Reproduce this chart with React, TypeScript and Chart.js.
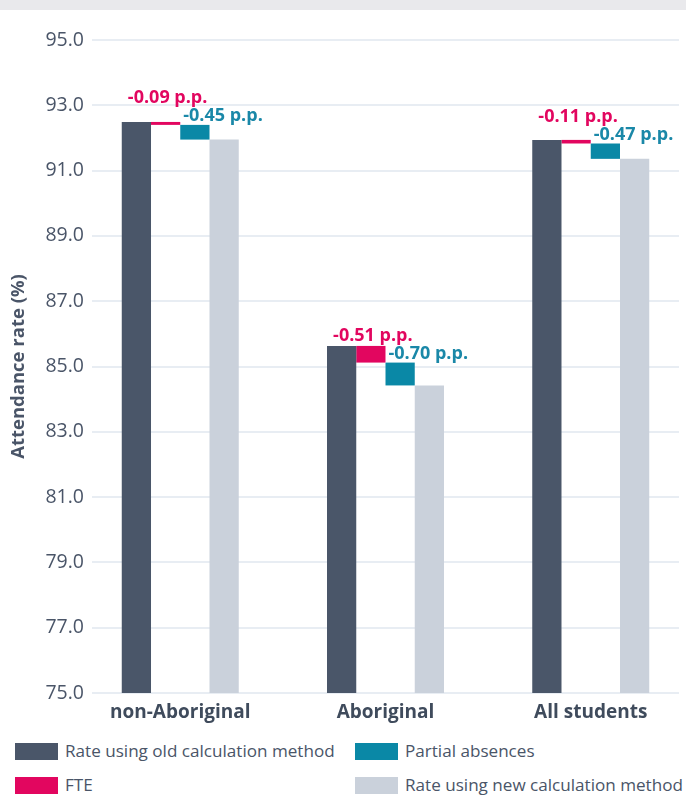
import React, { useEffect, useRef } from 'react';
import { Chart, registerables } from 'chart.js';

Chart.register(...registerables);

// ---- data ----
const categories = ['non-Aboriginal', 'Aboriginal', 'All students'];
const oldRates = [92.49, 85.63, 91.94];
const fteChange = [-0.09, -0.51, -0.11];
const partialChange = [-0.45, -0.7, -0.47];
const newRates = [91.95, 84.42, 91.36];
const yTicks = [75, 77, 79, 81, 83, 85, 87, 89, 91, 93, 95];
const seriesNames = [
  'Rate using old calculation method',
  'FTE',
  'Partial absences',
  'Rate using new calculation method',
];

const COLORS = ['#4a5669', '#e2065f', '#0a88a6', '#cad1db'];
const TEXT = '#4a5568';
const FONT = '"Open Sans", sans-serif';
// category axis extends 0.43 of a category beyond the first and last
const CAT_PAD = 0.43;

const labelPlugin = {
  id: 'ppLabels',
  afterDatasetsDraw(chart: any) {
    const ctx = chart.ctx;
    ctx.save();
    ctx.font = `bold 18px ${FONT}`;
    ctx.textBaseline = 'alphabetic';
    [1, 2].forEach((di) => {
      const meta = chart.getDatasetMeta(di);
      const changes = di === 1 ? fteChange : partialChange;
      meta.data.forEach((el: any, i: number) => {
        const p = el.getProps(['x', 'y', 'base', 'width'], true);
        const top = Math.min(p.y, p.base);
        const bottom = Math.max(p.y, p.base);
        const txt = `${changes[i].toFixed(2)} p.p.`;
        ctx.fillStyle = di === 1 ? '#e2065f' : '#1a88a8';
        if (di === 1) {
          ctx.textAlign = 'center';
          ctx.fillText(txt, p.x + 2, bottom - 22);
        } else {
          ctx.textAlign = 'left';
          ctx.fillText(txt, p.x - p.width / 2 + 3, top - 4);
        }
      });
    });
    ctx.restore();
  },
};

export default function App() {
  const ref = useRef<HTMLCanvasElement>(null);

  useEffect(() => {
    document.body.style.margin = '0';
    const fteBars = categories.map((_, i) => [oldRates[i] + fteChange[i], oldRates[i]]);
    const partialBars = categories.map((_, i) => [
      oldRates[i] + fteChange[i] + partialChange[i],
      oldRates[i] + fteChange[i],
    ]);
    const chart = new Chart(ref.current as HTMLCanvasElement, {
      type: 'bar',
      data: {
        labels: categories,
        datasets: [
          { label: seriesNames[0], data: oldRates, backgroundColor: COLORS[0] },
          { label: seriesNames[1], data: fteBars as any, backgroundColor: COLORS[1] },
          { label: seriesNames[2], data: partialBars as any, backgroundColor: COLORS[2] },
          { label: seriesNames[3], data: newRates, backgroundColor: COLORS[3] },
        ],
      },
      options: {
        animation: false,
        responsive: true,
        maintainAspectRatio: false,
        layout: { padding: { top: 30, right: 7, left: 0, bottom: 0 } },
        datasets: { bar: { categoryPercentage: 0.57, barPercentage: 1, borderWidth: 0 } },
        plugins: { legend: { display: false }, tooltip: { enabled: false } },
        scales: {
          x: {
            grid: { display: false, drawTicks: false },
            border: { display: false },
            ticks: {
              padding: 8,
              color: '#3f4b5c',
              font: { family: FONT, size: 19, weight: 'bold' },
            },
            afterFit: (s: any) => {
              s.height = 37;
            },
            afterBuildTicks: (s: any) => {
              s._startValue = -CAT_PAD;
              s._valueRange = categories.length - 1 + 2 * CAT_PAD;
            },
          },
          y: {
            min: 75,
            max: 95,
            grid: { color: '#e8edf3', lineWidth: 2, drawTicks: false },
            border: { display: false },
            afterBuildTicks: (s: any) => {
              s.ticks = yTicks.map((v) => ({ value: v }));
            },
            ticks: {
              padding: 8,
              color: TEXT,
              font: { family: FONT, size: 19.5 },
              callback: (v: any) => Number(v).toFixed(1),
            },
            title: {
              display: true,
              text: 'Attendance rate (%)',
              color: TEXT,
              font: { family: FONT, size: 18.5, weight: 'bold' },
              padding: { top: 8, bottom: 0 },
            },
            afterFit: (s: any) => {
              s.width = 92;
            },
          },
        },
      },
      plugins: [labelPlugin],
    });
    return () => chart.destroy();
  }, []);

  const legendOrder = [0, 2, 1, 3];
  return (
    <div style={{ position: 'relative', width: 686, height: 796, overflow: 'hidden', background: '#fff' }}>
      <div style={{ position: 'absolute', left: 0, top: 0, width: 686, height: 10, background: '#e9e9ec' }} />
      <div style={{ position: 'absolute', left: 0, top: 10, width: 686, height: 720 }}>
        <canvas ref={ref} />
      </div>
      <div
        style={{
          position: 'absolute',
          left: 15,
          top: 743,
          width: 700,
          display: 'grid',
          gridTemplateColumns: '340px 360px',
          rowGap: 17,
          fontFamily: FONT,
          fontSize: 17.1,
          color: TEXT,
        }}
      >
        {legendOrder.map((di) => (
          <div key={di} style={{ display: 'flex', alignItems: 'center', height: 17, whiteSpace: 'nowrap' }}>
            <span style={{ display: 'inline-block', width: 43, height: 17, background: COLORS[di], marginRight: 7 }} />
            <span style={{ marginTop: -2 }}>{seriesNames[di]}</span>
          </div>
        ))}
      </div>
    </div>
  );
}
